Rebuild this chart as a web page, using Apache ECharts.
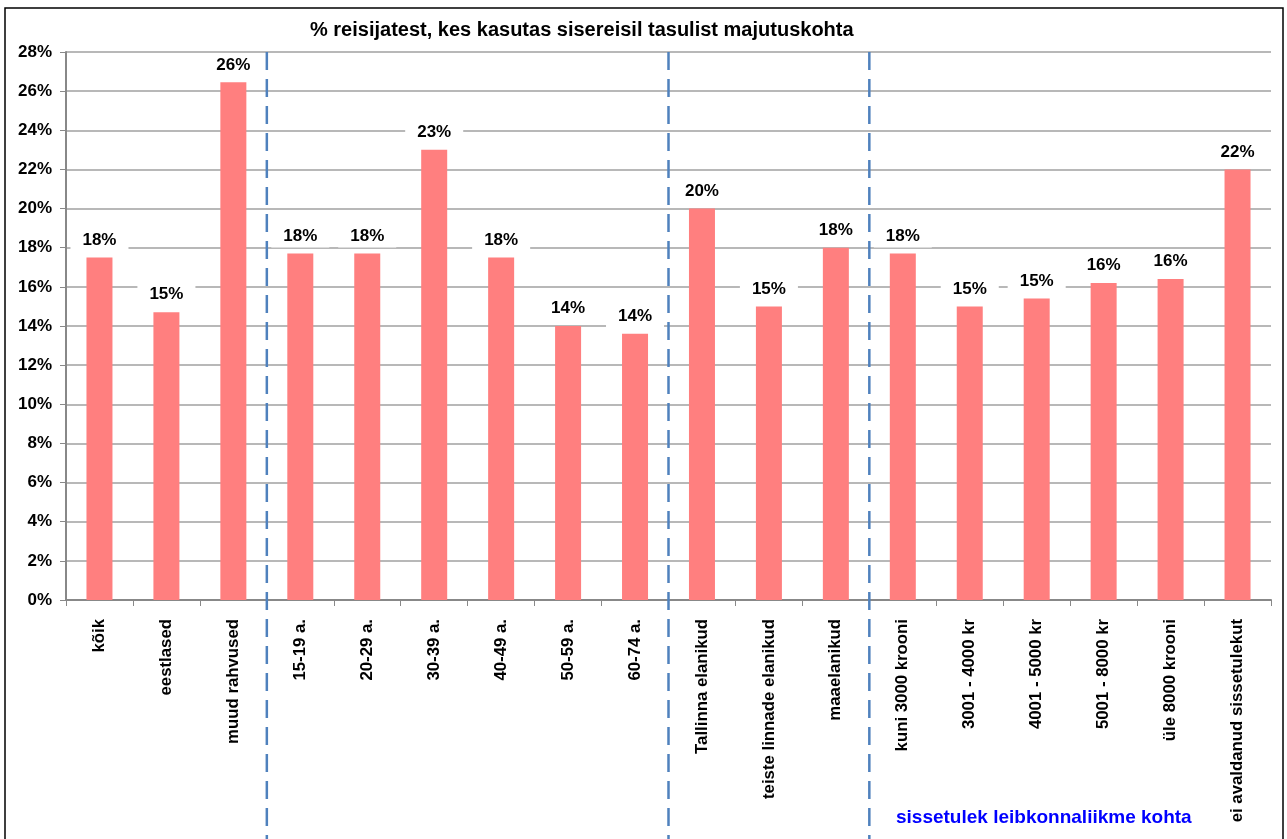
<!DOCTYPE html>
<html>
<head>
<meta charset="utf-8">
<script src="https://cdn.jsdelivr.net/npm/echarts@6/dist/echarts.min.js"></script>
<style>
  html, body { margin: 0; padding: 0; background: #fff; }
  #chart { width: 1287px; height: 839px; }
</style>
</head>
<body>
<div id="chart"></div>
<script>
// andmed
const categories = [
  'kõik', 'eestlased', 'muud rahvused',
  '15-19 a.', '20-29 a.', '30-39 a.', '40-49 a.', '50-59 a.', '60-74 a.',
  'Tallinna elanikud', 'teiste linnade elanikud', 'maaelanikud',
  'kuni 3000 krooni', '3001 - 4000 kr', '4001 - 5000 kr', '5001 - 8000 kr', 'üle 8000 krooni', 'ei avaldanud sissetulekut'
]
const values = [17.5, 14.7, 26.45, 17.7, 17.7, 23.0, 17.5, 14.0, 13.6, 20.0, 15.0, 18.0, 17.7, 15.0, 15.4, 16.2, 16.4, 22.0]
// gruppide piirid (kategooria indeks, mille järel joon)
const groupBreaks = [3, 9, 12]
const yTicks = { min: 0, max: 28, interval: 2 }

const W = 1287, H = 839
const grid = { left: 66, right: 16, top: 52, bottom: 239 }
const chart = echarts.init(document.getElementById('chart'))

const plotW = W - grid.left - grid.right
const band = plotW / categories.length
// eraldusjooned
const separators = groupBreaks.map((k) => ({
  type: 'line',
  shape: { x1: grid.left + k * band, y1: grid.top, x2: grid.left + k * band, y2: H },
  style: { stroke: '#4F81BD', lineWidth: 2.5, lineDash: [18, 9] },
  z: 10
}))

const option = {
  animation: false,
  title: {
    text: '% reisijatest, kes kasutas sisereisil tasulist majutuskohta',
    left: 305,
    top: 15,
    textStyle: { fontFamily: 'Liberation Sans', fontSize: 20, fontWeight: 'bold', color: '#000' }
  },
  grid: grid,
  xAxis: {
    type: 'category',
    data: categories,
    axisLine: { lineStyle: { color: '#888', width: 2 } },
    axisTick: { show: true, length: 6, lineStyle: { color: '#888' } },
    axisLabel: {
      rotate: 90,
      interval: 0,
      margin: 19,
      fontFamily: 'Liberation Sans',
      fontSize: 16.8,
      fontWeight: 'bold',
      color: '#000'
    }
  },
  yAxis: {
    type: 'value',
    min: yTicks.min,
    max: yTicks.max,
    interval: yTicks.interval,
    axisLine: { show: true, lineStyle: { color: '#888', width: 2 } },
    axisTick: { show: true, length: 6, lineStyle: { color: '#888' } },
    splitLine: { lineStyle: { color: '#a0a0a0', width: 1.5 } },
    axisLabel: {
      formatter: '{value}%',
      margin: 14,
      fontFamily: 'Liberation Sans',
      fontSize: 17,
      fontWeight: 'bold',
      color: '#000'
    }
  },
  series: [
    {
      type: 'bar',
      data: values,
      barWidth: 26,
      itemStyle: { color: '#FF7F7F' },
      label: {
        show: true,
        position: 'top',
        distance: 6,
        formatter: (p) => Math.round(p.value) + '%',
        fontFamily: 'Liberation Sans',
        fontSize: 17,
        fontWeight: 'bold',
        color: '#000',
        backgroundColor: '#fff',
        padding: [3, 12]
      }
    }
  ],
  graphic: [
    {
      type: 'rect',
      shape: { x: 5, y: 8, width: 1278, height: H },
      style: { fill: null, stroke: '#000', lineWidth: 1.5 },
      silent: true
    },
    ...separators,
    {
      type: 'text',
      left: 896,
      top: 808,
      style: {
        text: 'sissetulek leibkonnaliikme kohta',
        fill: '#0000FF',
        font: 'bold 19px "Liberation Sans"'
      }
    }
  ]
}
chart.setOption(option)
</script>
</body>
</html>
